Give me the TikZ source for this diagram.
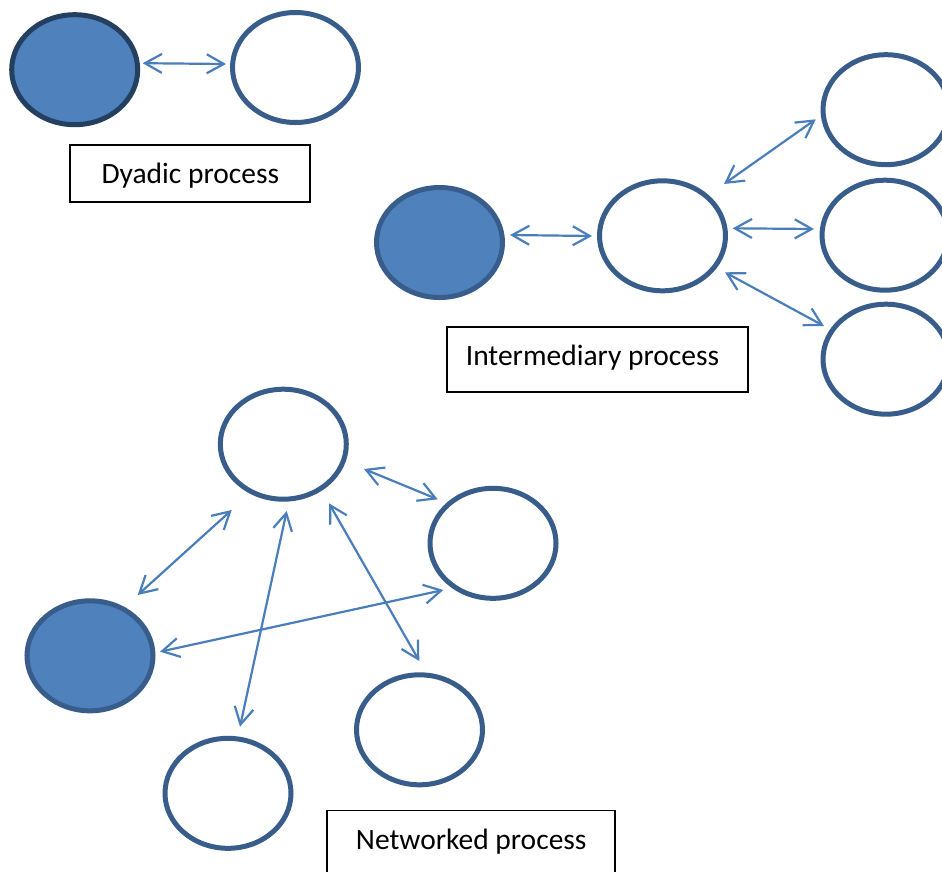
\documentclass[tikz,border=0pt]{standalone}
\usepackage{fontspec}
\setmainfont{Carlito}
\usetikzlibrary{shapes.geometric,arrows.meta}
\definecolor{fillblue}{HTML}{4F81BD}
\definecolor{edgeblue}{HTML}{385D8A}
\definecolor{darkedge}{HTML}{243F60}
\definecolor{arrowblue}{HTML}{4A7EBB}
\begin{document}
\begin{tikzpicture}[x=1pt,y=-1pt,
  bub/.style={ellipse, draw=edgeblue, line width=5pt, minimum width=126pt, minimum height=110pt, inner sep=0pt, fill=white},
  hub/.style={bub, fill=fillblue},
  labbox/.style={rectangle, draw=black, line width=1.8pt, inner sep=0pt},
  txt/.style={anchor=base, font=\fontsize{29.5}{35}\selectfont, inner sep=0pt},
  arr/.style={draw=arrowblue, line width=2.2pt, {Straight Barb[length=17pt,width=19pt]}-{Straight Barb[length=17pt,width=19pt]}}]
\fill[white] (0,0) rectangle (942,871);
\useasboundingbox (0,0) rectangle (942,871);

% Dyadic
\node[hub, draw=darkedge] (d1) at (74.7,69.7) {};
\node[bub] (d2) at (295.5,67.5) {};
\node[labbox, minimum width=240pt, minimum height=57.3pt] (dbox) at (190.2,173.5) {};
\node[txt] (dtxt) at (190.4,183.3) {Dyadic process};
\draw[arr] ([shift={(68,-6.5)}]d1.center) -- ([shift={(-69.5,-3.5)}]d2.center);

% Intermediary
\node[hub] (i1) at (439.5,242.5) {};
\node[bub] (i2) at (662.5,235.8) {};
\node[bub] (i3) at (886,109.7) {};
\node[bub] (i4) at (885,235.2) {};
\node[bub] (i5) at (886,359.2) {};
\node[labbox, minimum width=301.2pt, minimum height=65pt] (ibox) at (597.5,359.3) {};
\node[txt] (itxt) at (592.5,365) {Intermediary process};
\draw[arr] ([shift={(70.5,-7.5)}]i1.center) -- ([shift={(-70.5,0.2)}]i2.center);
\draw[arr] ([shift={(61.5,-51.8)}]i2.center) -- ([shift={(-70.3,9.6)}]i3.center);
\draw[arr] ([shift={(70.2,-7.5)}]i2.center) -- ([shift={(-71,-6.2)}]i4.center);
\draw[arr] ([shift={(62.5,36.5)}]i2.center) -- ([shift={(-62,-33.2)}]i5.center);

% Networked
\node[bub] (n1) at (283.3,444.2) {};
\node[bub] (n2) at (493,543.3) {};
\node[hub] (n3) at (90,655.8) {};
\node[bub] (n4) at (419.5,729.8) {};
\node[bub] (n5) at (228,793.3) {};
\node[labbox, minimum width=288.6pt, minimum height=89pt] (nbox) at (470.9,855) {};
\node[txt] (ntxt) at (471.2,849) {Networked process};
\draw[arr] ([shift={(47.7,-60.8)}]n3.center) -- ([shift={(-51.6,65.8)}]n1.center);
\draw[arr] ([shift={(3.4,66.8)}]n1.center) -- ([shift={(12,-66.6)}]n5.center);
\draw[arr] ([shift={(45.7,59.1)}]n1.center) -- ([shift={(-0.2,-68.8)}]n4.center);
\draw[arr] ([shift={(80.7,24.8)}]n1.center) -- ([shift={(-55.3,-44)}]n2.center);
\draw[arr] ([shift={(70,-4.1)}]n3.center) -- ([shift={(-49.7,46.7)}]n2.center);
\end{tikzpicture}
\end{document}
